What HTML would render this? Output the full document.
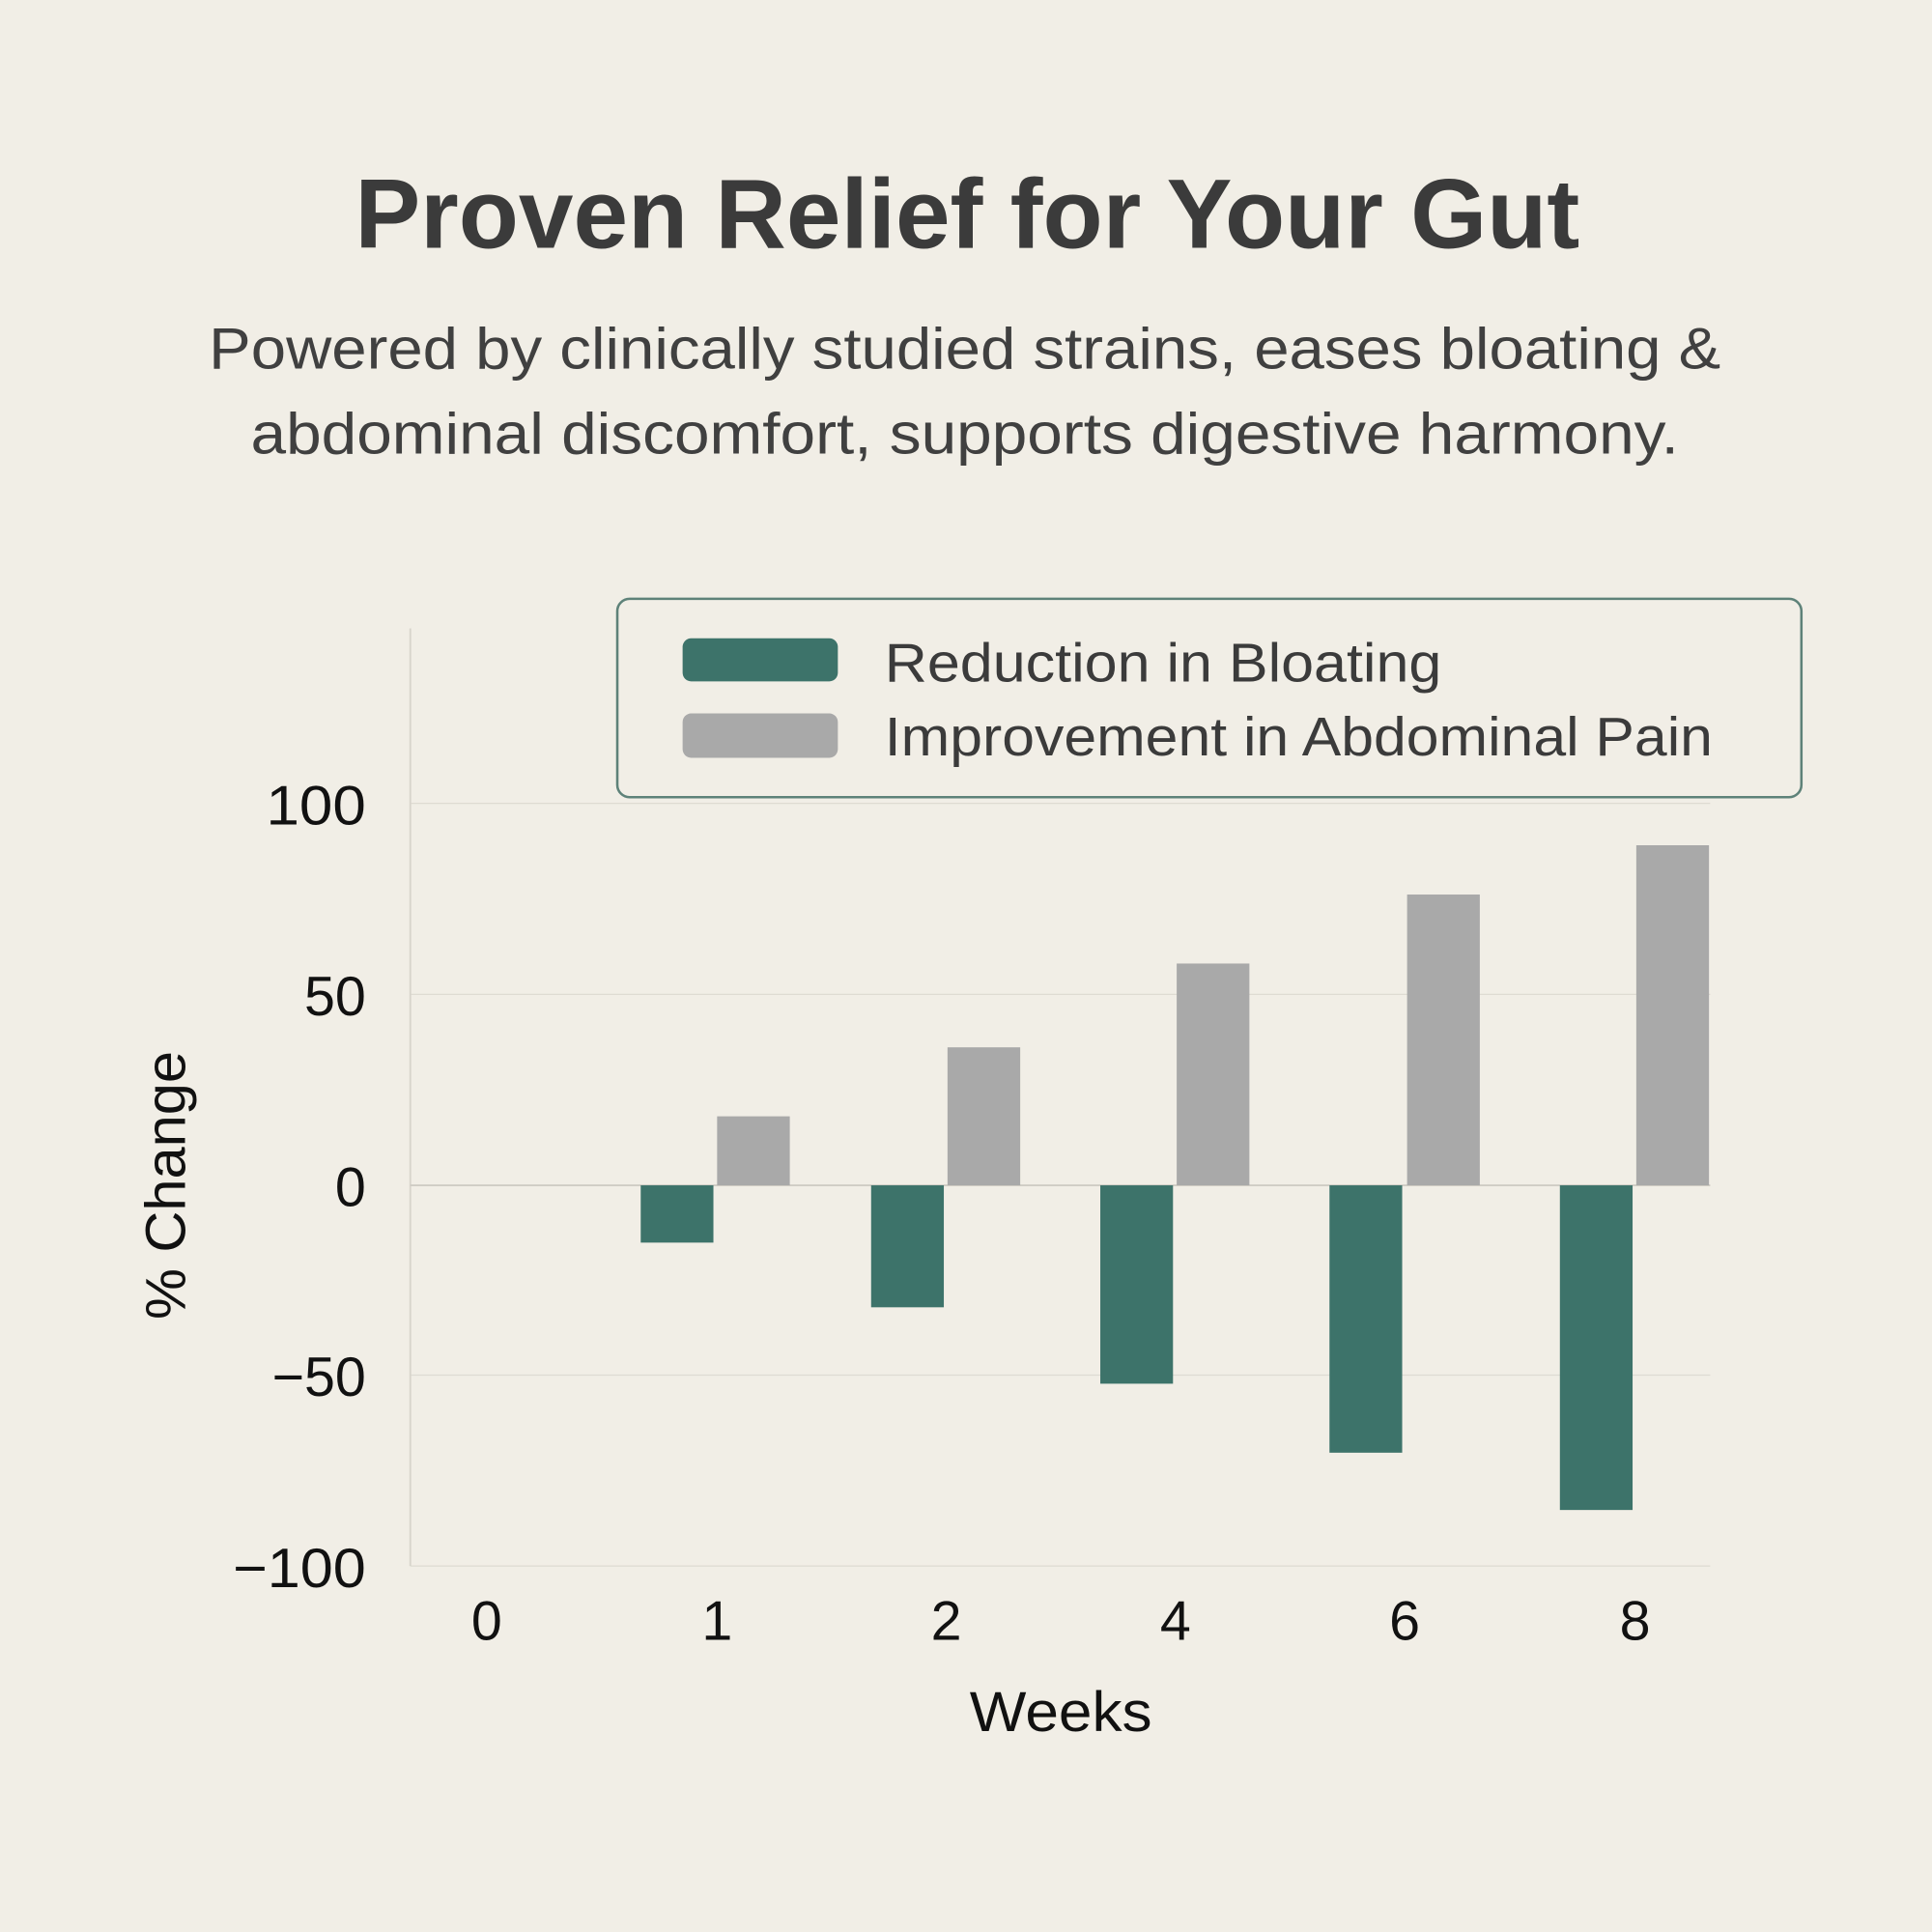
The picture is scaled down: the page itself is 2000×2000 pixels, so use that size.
<!DOCTYPE html>
<html><head><meta charset="utf-8"><style>
html,body{margin:0;padding:0;background:#f1eee6;}
svg{display:block;}
text{font-family:"Liberation Sans","DejaVu Sans",sans-serif;}
</style></head><body>
<svg width="2000" height="2000" viewBox="0 0 1568 1568" xmlns="http://www.w3.org/2000/svg">
<rect width="1568" height="1568" fill="#f1eee6"/>
<text x="785" y="201" text-anchor="middle" font-size="80" font-weight="bold" fill="#3b3b3b" textLength="994" lengthAdjust="spacingAndGlyphs">Proven Relief for Your Gut</text>
<text x="783" y="299" text-anchor="middle" font-size="47" fill="#404040" textLength="1227" lengthAdjust="spacingAndGlyphs">Powered by clinically studied strains, eases bloating &amp;</text>
<text x="783" y="368" text-anchor="middle" font-size="47" fill="#404040" textLength="1159" lengthAdjust="spacingAndGlyphs">abdominal discomfort, supports digestive harmony.</text>
<g stroke="#dedbd2" stroke-width="1">
<line x1="333" y1="652" x2="1388" y2="652"/>
<line x1="333" y1="807" x2="1388" y2="807"/>
<line x1="333" y1="1116" x2="1388" y2="1116"/>
<line x1="333" y1="1271" x2="1388" y2="1271"/>
</g>
<line x1="333" y1="510" x2="333" y2="1271" stroke="#d8d5cc" stroke-width="1.5"/>
<line x1="333" y1="962" x2="1388" y2="962" stroke="#cfccc4" stroke-width="1.5"/>
<g fill="#3d736a">
<rect x="520" y="962" width="59" height="46.5"/>
<rect x="707" y="962" width="59" height="99"/>
<rect x="893" y="962" width="59" height="161"/>
<rect x="1079" y="962" width="59" height="217"/>
<rect x="1266" y="962" width="59" height="263.5"/>
</g>
<g fill="#a9a9a9">
<rect x="582" y="906" width="59" height="56"/>
<rect x="769" y="850" width="59" height="112"/>
<rect x="955" y="782" width="59" height="180"/>
<rect x="1142" y="726" width="59" height="236"/>
<rect x="1328" y="686" width="59" height="276"/>
</g>
<g font-size="45" fill="#111" text-anchor="end">
<text x="297" y="669" textLength="81" lengthAdjust="spacingAndGlyphs">100</text>
<text x="297" y="824">50</text>
<text x="297" y="979">0</text>
<text x="297" y="1133">−50</text>
<text x="297" y="1288" textLength="108" lengthAdjust="spacingAndGlyphs">−100</text>
</g>
<g font-size="45" fill="#111" text-anchor="middle">
<text x="395" y="1331">0</text>
<text x="582" y="1331">1</text>
<text x="768" y="1331">2</text>
<text x="954" y="1331">4</text>
<text x="1140" y="1331">6</text>
<text x="1327" y="1331">8</text>
<text x="861" y="1405" font-size="46" textLength="148" lengthAdjust="spacingAndGlyphs">Weeks</text>
<text transform="translate(150,962) rotate(-90)" font-size="46" textLength="218" lengthAdjust="spacingAndGlyphs">% Change</text>
</g>
<rect x="501" y="486" width="961" height="161" rx="10" fill="#f1eee6" stroke="#5e8279" stroke-width="2"/>
<rect x="554" y="518" width="126" height="35" rx="7" fill="#3d736a"/>
<rect x="554" y="579" width="126" height="36" rx="7" fill="#a9a9a9"/>
<text x="718" y="553" font-size="44" fill="#3b3b3b" textLength="452" lengthAdjust="spacingAndGlyphs">Reduction in Bloating</text>
<text x="718" y="613" font-size="44" fill="#3b3b3b" textLength="672" lengthAdjust="spacingAndGlyphs">Improvement in Abdominal Pain</text>
</svg>
</body></html>
